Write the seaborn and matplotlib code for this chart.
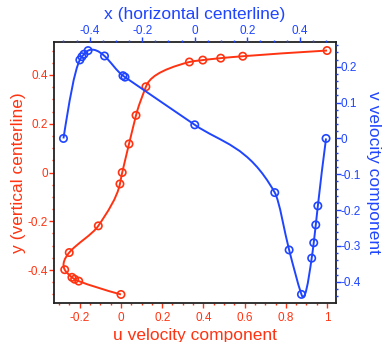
import numpy as np
import matplotlib
matplotlib.use("Agg")
import matplotlib.pyplot as plt
from matplotlib.path import Path
from matplotlib.patches import PathPatch
from matplotlib.ticker import MultipleLocator, FuncFormatter
import seaborn as sns

# u velocity along the vertical centerline
y_vertical = [-0.5, -0.4453, -0.4375, -0.4297, -0.3984, -0.3281, -0.2187, -0.0469,
              0.0, 0.1172, 0.2344, 0.3516, 0.4531, 0.4609, 0.4688, 0.4766, 0.5]
u_velocity = [0.0, -0.205, -0.225, -0.238, -0.273, -0.251, -0.110, -0.005,
              0.006, 0.039, 0.073, 0.121, 0.332, 0.397, 0.484, 0.591, 1.0]

# v velocity along the horizontal centerline
x_horizontal = [-0.5, -0.4375, -0.4297, -0.4219, -0.4062, -0.3437, -0.2734, -0.2656,
                0.0, 0.3047, 0.3594, 0.4063, 0.4453, 0.4531, 0.4609, 0.4688, 0.5]
v_velocity = [0.0, 0.219, 0.228, 0.235, 0.245, 0.230, 0.175, 0.171,
              0.038, -0.151, -0.311, -0.435, -0.334, -0.291, -0.241, -0.188, 0.0]

RED = "#ff3311"
BLUE = "#1f45ff"

sns.set_style("ticks")
plt.rcParams["font.family"] = ["Liberation Sans", "DejaVu Sans"]


def smooth_path(t, f, swap=False):
    """Akima-style smooth curve through the data, rendered as Bezier curves."""
    t = np.asarray(t, float)
    f = np.asarray(f, float)
    n = len(t)
    h = np.diff(t)
    d = np.diff(f) / h
    dm1 = 2 * d[0] - d[1]
    dm2 = 2 * dm1 - d[0]
    dp1 = 2 * d[-1] - d[-2]
    dp2 = 2 * dp1 - d[-1]
    D = np.concatenate([[dm2, dm1], d, [dp1, dp2]])
    m = np.empty(n)
    for i in range(n):
        w1 = abs(D[i + 3] - D[i + 2])
        w2 = abs(D[i + 1] - D[i])
        if w1 + w2 < 1e-12:
            m[i] = 0.5 * (D[i + 1] + D[i + 2])
        else:
            m[i] = (w1 * D[i + 1] + w2 * D[i + 2]) / (w1 + w2)
    verts = [(t[0], f[0])]
    codes = [Path.MOVETO]
    for i in range(n - 1):
        verts += [(t[i] + h[i] / 3, f[i] + m[i] * h[i] / 3),
                  (t[i + 1] - h[i] / 3, f[i + 1] - m[i + 1] * h[i] / 3),
                  (t[i + 1], f[i + 1])]
        codes += [Path.CURVE4] * 3
    verts = np.array(verts)
    if swap:
        verts = verts[:, ::-1]
    return Path(verts, codes)


fig = plt.figure(figsize=(3.82, 3.42), dpi=100)
rect = [54 / 382, 1 - 303 / 342, (335.5 - 54) / 382, (303 - 42) / 342]
ax = fig.add_axes(rect)
ax2 = fig.add_axes(rect, frameon=False)
ax2.patch.set_visible(False)

# red: u along vertical centerline (bottom/left axes)
ax.add_patch(PathPatch(smooth_path(y_vertical, u_velocity, swap=True),
                       facecolor="none", edgecolor=RED, lw=1.4, zorder=2))
sns.scatterplot(x=u_velocity, y=y_vertical, ax=ax, marker="o", s=28,
                facecolor="none", edgecolor=RED, linewidth=1.2, zorder=3)

# blue: v along horizontal centerline (top/right axes)
ax2.add_patch(PathPatch(smooth_path(x_horizontal, v_velocity),
                        facecolor="none", edgecolor=BLUE, lw=1.4, zorder=2))
sns.scatterplot(x=x_horizontal, y=v_velocity, ax=ax2, marker="o", s=28,
                facecolor="none", edgecolor=BLUE, linewidth=1.2, zorder=3)

ax.set_xlim(-0.325, 1.041)
ax.set_ylim(-0.535, 0.535)
ax2.set_xlim(-0.536, 0.536)
ax2.set_ylim(-0.459, 0.269)

fmt = FuncFormatter(lambda v, p: "%g" % round(v, 6))

ax.xaxis.set_major_locator(MultipleLocator(0.2))
ax.xaxis.set_minor_locator(MultipleLocator(0.05))
ax.yaxis.set_major_locator(MultipleLocator(0.2))
ax.yaxis.set_minor_locator(MultipleLocator(0.05))
ax.xaxis.set_major_formatter(fmt)
ax.yaxis.set_major_formatter(fmt)

ax2.xaxis.set_major_locator(MultipleLocator(0.2))
ax2.xaxis.set_minor_locator(MultipleLocator(0.05))
ax2.yaxis.set_major_locator(MultipleLocator(0.1))
ax2.yaxis.set_minor_locator(MultipleLocator(0.02))
ax2.xaxis.set_major_formatter(fmt)
ax2.yaxis.set_major_formatter(fmt)

ax.tick_params(axis="both", which="both", direction="out", colors=RED,
               labelsize=8.5, top=False, right=False)
ax.tick_params(which="major", length=3.3, width=1)
ax.tick_params(which="minor", length=1.7, width=1)
ax.tick_params(axis="x", which="major", pad=3)
ax.tick_params(axis="y", which="major", pad=1.2)

ax2.xaxis.tick_top()
ax2.yaxis.tick_right()
ax2.xaxis.set_label_position("top")
ax2.yaxis.set_label_position("right")
ax2.tick_params(axis="both", which="both", direction="out", colors=BLUE,
                labelsize=8.5, bottom=False, left=False)
ax2.tick_params(which="major", length=3.3, width=1)
ax2.tick_params(which="minor", length=1.7, width=1)
ax2.tick_params(axis="x", which="major", pad=0.3)
ax2.tick_params(axis="y", which="major", pad=0.6)

for s in ax.spines.values():
    s.set_visible(True)
    s.set_color("#222222")
    s.set_linewidth(1.3)

ax.set_xlabel("u velocity component", color=RED, fontsize=12.5, labelpad=3)
ax.set_ylabel("y (vertical centerline)", color=RED, fontsize=12.5, labelpad=1)
ax2.set_xlabel("x (horizontal centerline)", color=BLUE, fontsize=12.5, labelpad=4)
ax2.set_ylabel("v velocity component", color=BLUE, fontsize=12.5, rotation=270,
               labelpad=14)

fig.savefig("out.png", dpi=100)
